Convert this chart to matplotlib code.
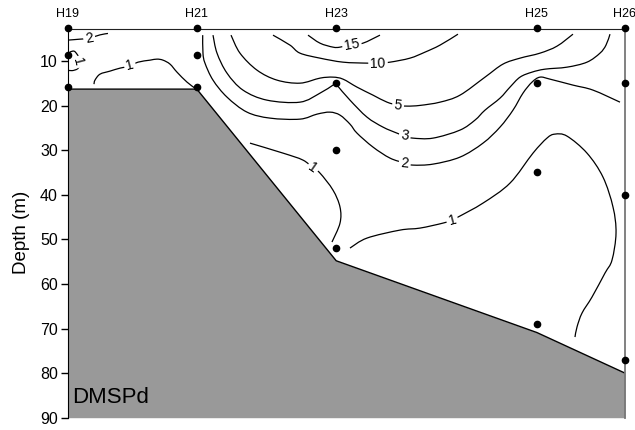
import matplotlib
matplotlib.use('Agg')
import matplotlib.pyplot as plt
from matplotlib.path import Path
from matplotlib.patches import PathPatch

plt.rcParams['font.family'] = ['Liberation Sans', 'DejaVu Sans']

# ---------------- data ----------------
stations = ['H19', 'H21', 'H23', 'H25', 'H26']
station_dist = [0.0, 23.2, 48.2, 84.2, 100.0]          # distance along transect
bottom_depth = [16.3, 16.3, 54.8, 70.9, 80.0]          # bottom depth (m)

sample_dist = [0.0, 0.0, 0.0,
               23.2, 23.2, 23.2,
               48.2, 48.2, 48.2, 48.2,
               84.2, 84.2, 84.2, 84.2,
               100.0, 100.0, 100.0, 100.0]
sample_depth = [2.7, 8.7, 15.8,
                2.7, 8.7, 15.8,
                2.7, 15.0, 30.0, 52.0,
                2.7, 15.0, 35.0, 69.0,
                2.7, 15.0, 40.0, 77.0]

# contour isolines (distance, depth)
c15_dist = [43.14, 45.29, 47.62, 48.88, 51.03, 53.0, 56.05]
c15_depth = [4.19, 5.99, 6.88, 6.88, 6.21, 5.99, 4.19]

c10_dist = [36.86, 39.91, 41.7, 45.29, 49.42, 53.72, 55.7, 57.85, 61.43, 64.13, 66.82, 70.04]
c10_depth = [4.19, 6.43, 8.23, 9.35, 10.25, 10.47, 10.47, 10.25, 9.35, 8.0, 6.43, 3.97]

c5_dist = [29.33, 30.94, 33.99, 37.58, 41.7, 45.29, 47.62, 49.42, 51.93, 54.8, 57.31, 59.28,
           60.9, 63.23, 66.82, 70.4, 74.89, 78.11, 81.17, 84.75, 87.8, 90.67]
c5_depth = [4.19, 8.23, 12.04, 14.28, 14.96, 13.83, 13.61, 14.06, 15.85, 17.65, 19.22, 19.89,
            20.11, 19.95, 19.22, 17.65, 13.61, 10.69, 9.35, 8.23, 6.66, 3.97]

c3_dist = [26.1, 26.82, 28.61, 31.48, 35.78, 41.7, 45.29, 47.62, 48.16, 48.34, 50.67, 53.72,
           56.59, 59.1, 60.54, 61.97, 65.56, 70.4, 73.09, 74.89, 77.58, 79.37, 81.17, 83.32,
           85.65, 89.6, 93.18, 95.51, 96.59, 97.31]
c3_depth = [4.19, 8.23, 12.71, 16.52, 18.77, 19.22, 17.2, 15.4, 14.96, 15.4, 18.77, 22.58,
            24.82, 26.17, 26.84, 27.29, 27.29, 25.49, 23.25, 21.01, 18.32, 15.85, 13.61, 12.49,
            11.82, 11.37, 10.25, 8.23, 6.43, 3.97]

c2_dist = [24.25, 24.3, 24.66, 26.1, 28.61, 32.2, 36.32, 41.7, 44.75, 47.08, 48.88, 50.67,
           51.93, 54.8, 57.85, 60.54, 61.97, 65.56, 70.4, 74.53, 77.58, 79.91, 81.7, 83.32,
           84.75, 86.55, 90.67, 94.26, 99.1]
c2_depth = [4.19, 8.23, 10.47, 14.28, 18.09, 21.46, 22.8, 23.03, 21.91, 21.46, 22.13, 24.15,
            26.17, 29.3, 31.77, 32.89, 33.34, 33.12, 31.55, 28.41, 24.82, 21.01, 17.2, 14.73,
            13.61, 14.06, 15.4, 16.52, 19.22]

c2b_dist = [0.0, 2.24, 3.86, 5.83, 7.26]
c2b_depth = [5.31, 5.09, 4.87, 4.13, 3.81]

c1a_dist = [0.0, 0.45, 1.17, 1.7, 2.06, 2.06, 1.7, 0.81, 0.0]
c1a_depth = [8.68, 8.0, 7.78, 8.45, 9.35, 11.14, 11.82, 12.15, 12.04]

c1b_dist = [4.75, 4.93, 5.83, 7.62, 9.42, 11.21, 12.65, 14.8, 16.05, 17.13, 18.39, 19.64, 21.44, 22.87]
c1b_depth = [15.18, 14.28, 12.94, 12.26, 11.59, 11.14, 10.25, 9.8, 9.57, 9.8, 10.69, 12.49, 14.73, 16.08]

c1c_dist = [32.73, 38.65, 42.24, 44.04, 45.29, 47.62, 48.88, 48.88, 47.44]
c1c_depth = [28.41, 30.65, 32.22, 34.01, 35.13, 38.95, 42.76, 46.35, 50.6]

c1d_dist = [50.67, 53.72, 59.64, 63.23, 67.35, 68.97, 70.04, 74.53, 79.37, 83.5, 86.0, 87.44,
            89.6, 93.18, 96.05, 97.85, 98.39, 97.67, 96.41, 94.08, 92.29, 91.39, 91.03]
c1d_depth = [51.95, 49.71, 47.92, 47.47, 46.35, 45.67, 45.0, 41.86, 37.38, 30.65, 27.29, 26.39,
             26.84, 30.65, 36.03, 42.76, 48.59, 54.64, 57.56, 62.94, 66.53, 69.66, 71.91]

# contour labels: text, distance, depth, rotation
label_text = ['15', '10', '5', '3', '2', '2', '1', '1', '1', '1']
label_dist = [51.0, 55.7, 59.3, 60.5, 60.5, 3.9, 1.9, 11.2, 44.0, 69.0]
label_depth = [6.3, 10.5, 19.9, 26.8, 32.9, 4.9, 10.2, 11.0, 34.0, 45.7]
label_rot = [10, 2, -6, -8, -5, 10, -75, 15, -35, 15]


def smooth_path(xs, ys):
    """Catmull-Rom style cubic Bezier path through the given points."""
    pts = list(zip(xs, ys))
    n = len(pts)
    verts = [pts[0]]
    codes = [Path.MOVETO]
    for i in range(n - 1):
        p0 = pts[i - 1] if i > 0 else pts[i]
        p1 = pts[i]
        p2 = pts[i + 1]
        p3 = pts[i + 2] if i + 2 < n else pts[i + 1]
        c1 = (p1[0] + (p2[0] - p0[0]) / 6.0, p1[1] + (p2[1] - p0[1]) / 6.0)
        c2 = (p2[0] - (p3[0] - p1[0]) / 6.0, p2[1] - (p3[1] - p1[1]) / 6.0)
        verts += [c1, c2, p2]
        codes += [Path.CURVE4] * 3
    return Path(verts, codes)


# ---------------- plot ----------------
fig = plt.figure(figsize=(6.35, 4.3), dpi=100)
ax = fig.add_axes([67.5 / 635, 1 - 417.7 / 430, (625 - 67.5) / 635, (417.7 - 28.5) / 430])

lines = [(c15_dist, c15_depth), (c10_dist, c10_depth), (c5_dist, c5_depth),
         (c3_dist, c3_depth), (c2_dist, c2_depth), (c2b_dist, c2b_depth),
         (c1a_dist, c1a_depth), (c1b_dist, c1b_depth), (c1c_dist, c1c_depth),
         (c1d_dist, c1d_depth)]
for xd, yd in lines:
    ax.add_patch(PathPatch(smooth_path(xd, yd), fill=False, edgecolor='black',
                           lw=0.9, zorder=2))

for t, xd, yd, r in zip(label_text, label_dist, label_depth, label_rot):
    ax.text(xd, yd, t, fontsize=10, rotation=r, ha='center', va='center',
            rotation_mode='anchor', zorder=3,
            bbox=dict(boxstyle='square,pad=0.15', fc='white', ec='none'))

# bathymetry
ax.fill_between(station_dist, bottom_depth, 90, color='#999999', zorder=4, lw=0)
ax.plot(station_dist, bottom_depth, color='black', lw=1.0, zorder=5)

# samples
ax.plot(sample_dist, sample_depth, 'o', color='black', ms=4.5, zorder=6, clip_on=False)

ax.set_xlim(0, 100)
ax.set_ylim(90, 2.7)

ax.set_yticks([10, 20, 30, 40, 50, 60, 70, 80, 90])
ax.tick_params(axis='y', direction='out', length=5, width=1, labelsize=11.5, pad=2)
ax.set_ylabel('Depth (m)', fontsize=13.5)
ax.yaxis.set_label_coords(-0.068, 0.477)

ax.xaxis.tick_top()
ax.set_xticks(station_dist)
ax.set_xticklabels(stations)
ax.tick_params(axis='x', length=0, labelsize=9, pad=6)

ax.spines['bottom'].set_visible(False)
ax.spines['left'].set_color('black')
ax.spines['top'].set_color('#222222')
ax.spines['right'].set_color('#777777')
ax.spines['right'].set_linewidth(1.3)
for s in ['left', 'top', 'right']:
    ax.spines[s].set_zorder(5.5)

ax.text(0.8, 86.6, 'DMSPd', fontsize=16, ha='left', va='baseline', zorder=7)

fig.savefig('out.png', dpi=100)
